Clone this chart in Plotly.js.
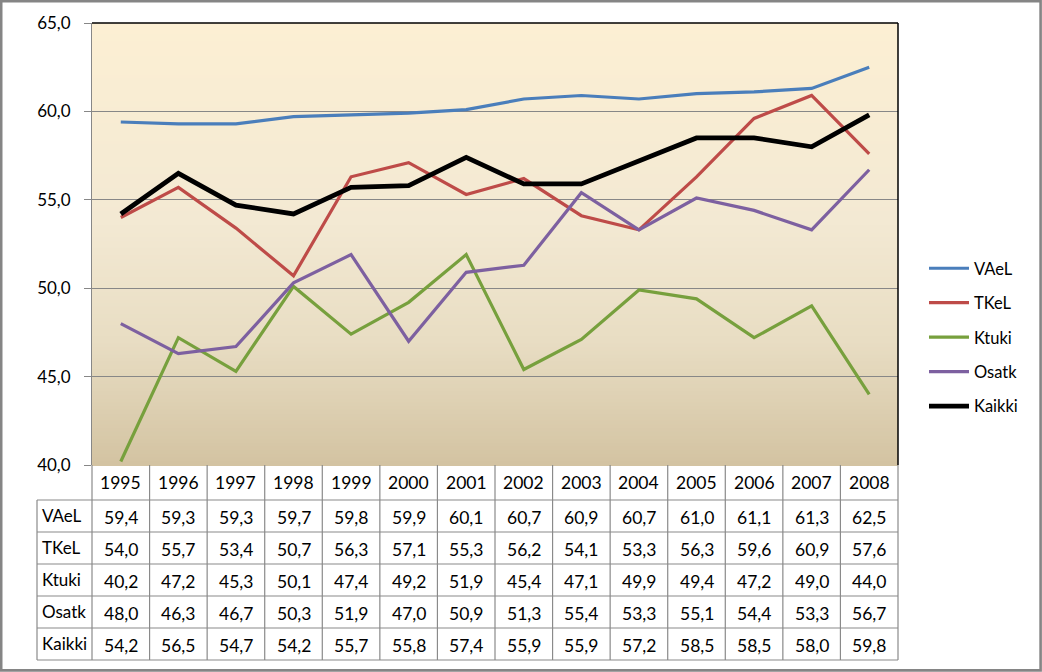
<!DOCTYPE html>
<html>
<head>
<meta charset="utf-8">
<script src="https://cdn.plot.ly/plotly-3.0.1.min.js"></script>
<style>
html,body{margin:0;padding:0;background:#fff;}
#chart{width:1042px;height:672px;}
</style>
</head>
<body>
<div id="chart"></div>
<script>
// ---- data ----
const years = [1995,1996,1997,1998,1999,2000,2001,2002,2003,2004,2005,2006,2007,2008];
const seriesNames = ["VAeL","TKeL","Ktuki","Osatk","Kaikki"];
const VAeL   = [59.4,59.3,59.3,59.7,59.8,59.9,60.1,60.7,60.9,60.7,61.0,61.1,61.3,62.5];
const TKeL   = [54.0,55.7,53.4,50.7,56.3,57.1,55.3,56.2,54.1,53.3,56.3,59.6,60.9,57.6];
const Ktuki  = [40.2,47.2,45.3,50.1,47.4,49.2,51.9,45.4,47.1,49.9,49.4,47.2,49.0,44.0];
const Osatk  = [48.0,46.3,46.7,50.3,51.9,47.0,50.9,51.3,55.4,53.3,55.1,54.4,53.3,56.7];
const Kaikki = [54.2,56.5,54.7,54.2,55.7,55.8,57.4,55.9,55.9,57.2,58.5,58.5,58.0,59.8];
const seriesValues = [VAeL,TKeL,Ktuki,Osatk,Kaikki];
const yTicks = [40,45,50,55,60,65];

// ---- styling ----
const colors = ["#4a7ebb","#be4b48","#77a03d","#7d60a0","#000000"];
const widths = [3.2,3.2,3.2,3.2,4.8];
const FONT = "Lato, 'Open Sans', sans-serif";

// geometry in pixels
const W = 1042, H = 672;
const mL = 92, mR = 144, mT = 23, mB = 207;
const pw = W - mL - mR, ph = H - mT - mB;
const px2x = p => (p - mL) / pw;
const py2y = p => (H - mB - p) / ph;

const traces = seriesNames.map((n, i) => ({
  type: "scatter", mode: "lines", name: n,
  x: years, y: seriesValues[i],
  line: {color: colors[i], width: widths[i]},
  legendgroup: n,
  hoverinfo: "skip"
}));

const shapes = [];
// gradient background of plot area
function lerp(a,b,t){return a+(b-a)*t;}
function hex(c){return [parseInt(c.slice(1,3),16),parseInt(c.slice(3,5),16),parseInt(c.slice(5,7),16)];}
const stops = [[0,"#fcefd3"],[0.45,"#f3e9d3"],[0.72,"#e8ddc3"],[1,"#d3c3a1"]];
function colorAt(t){
  for(let k=0;k<stops.length-1;k++){
    const [t0,c0]=stops[k],[t1,c1]=stops[k+1];
    if(t<=t1){const u=(t-t0)/(t1-t0);const a=hex(c0),b=hex(c1);
      return "rgb("+[0,1,2].map(j=>Math.round(lerp(a[j],b[j],u))).join(",")+")";}
  }
  return stops[stops.length-1][1];
}
const N = 120;
for(let k=0;k<N;k++){
  const t0 = k/N, t1=(k+1)/N;
  shapes.push({type:"rect", xref:"paper", yref:"paper", x0:0, x1:1,
    y0: 1 - t1 - 0.002, y1: 1 - t0, fillcolor: colorAt((t0+t1)/2),
    line:{width:0}, layer:"below"});
}
// plot top & right borders (black)
shapes.push({type:"line", xref:"paper", yref:"paper", x0:0, x1:1, y0:1, y1:1, line:{color:"#000", width:1.5}});
shapes.push({type:"line", xref:"paper", yref:"paper", x0:1, x1:1, y0:0, y1:1, line:{color:"#000", width:1.5}});

// data table
const tableGray = "#8a8a8a";
const rowB = [465, 500, 532, 564, 596, 628, 660];
const tblLeft = 37;
for(let r=1;r<rowB.length;r++){
  shapes.push({type:"line", xref:"paper", yref:"paper", x0:px2x(tblLeft), x1:1,
    y0:py2y(rowB[r]), y1:py2y(rowB[r]), line:{color:tableGray, width:1.2}});
}
for(let k=0;k<=years.length;k++){
  shapes.push({type:"line", xref:"paper", yref:"paper", x0:k/years.length, x1:k/years.length,
    y0:py2y(rowB[0]), y1:py2y(rowB[rowB.length-1]), line:{color:tableGray, width:1.2}});
}
shapes.push({type:"line", xref:"paper", yref:"paper", x0:px2x(tblLeft), x1:px2x(tblLeft),
  y0:py2y(rowB[1]), y1:py2y(rowB[rowB.length-1]), line:{color:tableGray, width:1.2}});

// outer frame
shapes.push({type:"rect", xref:"paper", yref:"paper", x0:px2x(1.2), x1:px2x(1040.6),
  y0:py2y(670.4), y1:py2y(1.2), line:{color:"#858585", width:2.6}, fillcolor:"rgba(0,0,0,0)"});

const annotations = [];
const fmt = v => v.toFixed(1).replace(".", ",");
const rowC = r => (rowB[r] + rowB[r+1]) / 2;
const TF = {family:FONT, size:17.5, color:"#000"};
years.forEach((yr, i) => {
  annotations.push({xref:"x", yref:"paper", x:yr, y:py2y(rowC(0)), text:String(yr),
    showarrow:false, font:TF, xanchor:"center", yanchor:"middle"});
  seriesValues.forEach((vals, s) => {
    annotations.push({xref:"x", yref:"paper", x:yr, y:py2y(rowC(s+1)+1), text:fmt(vals[i]),
      showarrow:false, font:TF, xanchor:"center", yanchor:"middle"});
  });
});
seriesNames.forEach((n, s) => {
  annotations.push({xref:"paper", yref:"paper", x:px2x(40), y:py2y(rowC(s+1)-1), text:n,
    showarrow:false, font:{family:FONT, size:17, color:"#000"}, xanchor:"left", yanchor:"middle"});
});

const layout = {
  width: W, height: H,
  margin: {l:mL, r:mR, t:mT, b:mB, pad:0},
  paper_bgcolor: "#ffffff",
  plot_bgcolor: "#ffffff",
  separators: ", ",
  font: {family: FONT, size: 16, color: "#000"},
  showlegend: true,
  legend: {x: px2x(924), xanchor:"left", y: py2y(251), yanchor:"top",
    font:{family:FONT, size:16.5, color:"#000"}, bgcolor:"rgba(0,0,0,0)",
    tracegroupgap: 10, itemwidth: 40},
  xaxis: {range:[years[0]-0.5, years[years.length-1]+0.5], showticklabels:false,
    showgrid:false, zeroline:false, showline:false, ticks:"", fixedrange:true},
  yaxis: {range:[yTicks[0], yTicks[yTicks.length-1]], tickvals: yTicks, tickformat:".1f",
    showgrid:true, gridcolor:"#878787", gridwidth:1, zeroline:false,
    showline:true, linecolor:"#878787", linewidth:1,
    ticks:"outside", ticklen:7, tickcolor:"#878787", ticklabelstandoff:10,
    tickfont:{family:FONT, size:17, color:"#000"}, fixedrange:true},
  shapes: shapes,
  annotations: annotations
};

Plotly.newPlot("chart", traces, layout, {displayModeBar:false, staticPlot:true});
</script>
</body>
</html>
